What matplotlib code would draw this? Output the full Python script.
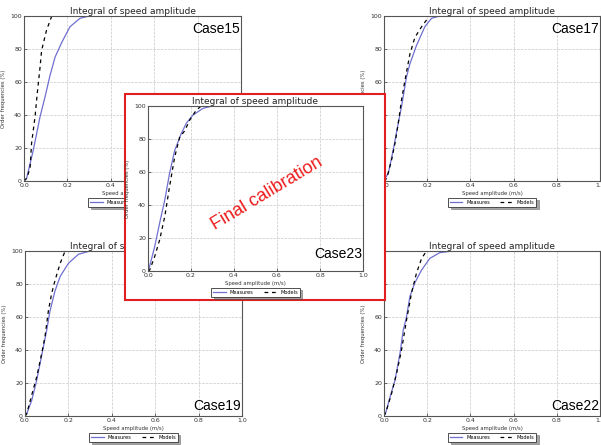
import matplotlib
matplotlib.use("Agg")
import matplotlib.pyplot as plt
from matplotlib.patches import Rectangle

W, H = 601, 445

# speed amplitude (m/s) / cumulative frequency (%)
c15_meas_x = [0.0, 0.012, 0.043, 0.074, 0.097, 0.12, 0.143, 0.174, 0.212, 0.258, 0.30, 1.0]
c15_meas_y = [0, 1.6, 18.8, 39, 51, 64, 75, 84, 93.5, 98.6, 100, 100]
c15_mod_x = [0.0, 0.012, 0.028, 0.035, 0.051, 0.061, 0.074, 0.081, 0.104, 0.127]
c15_mod_y = [0, 1.6, 7.7, 23, 39, 53, 69, 79, 91.5, 99.6]

c17_meas_x = [0.0, 0.02, 0.043, 0.066, 0.081, 0.104, 0.12, 0.15, 0.189, 0.22, 0.258, 0.30]
c17_meas_y = [0.6, 4.6, 19, 35, 45, 63, 71, 82, 93.5, 98.6, 100, 100]
c17_mod_x = [0.0, 0.012, 0.035, 0.051, 0.066, 0.081, 0.097, 0.12, 0.143, 0.174, 0.197, 0.21]
c17_mod_y = [0, 1.5, 12.7, 23, 35, 49, 61, 77, 87, 93.5, 97.6, 100]

c19_meas_x = [0.0, 0.008, 0.031, 0.054, 0.077, 0.10, 0.115, 0.138, 0.162, 0.20, 0.246, 0.30, 1.0]
c19_meas_y = [0, 1.4, 9.5, 21.7, 36.8, 52, 63.6, 75.7, 84.6, 92.5, 98, 100, 100]
c19_mod_x = [0.0, 0.008, 0.031, 0.054, 0.077, 0.092, 0.108, 0.123, 0.138, 0.162, 0.185]
c19_mod_y = [0, 1.4, 12.7, 23.7, 37.9, 48, 64, 74.3, 82, 92.5, 100]

c22_meas_x = [0.0, 0.009, 0.028, 0.051, 0.074, 0.089, 0.104, 0.12, 0.143, 0.174, 0.212, 0.258, 0.32, 1.0]
c22_meas_y = [0, 2.4, 11.5, 21.7, 37.9, 52, 60, 72.5, 80.8, 88.5, 95.5, 99, 100, 100]
c22_mod_x = [0.0, 0.009, 0.035, 0.058, 0.081, 0.104, 0.127, 0.15, 0.174, 0.197]
c22_mod_y = [0, 2.4, 13.6, 25.7, 39.9, 58, 74.3, 86.4, 95.5, 100]

c23_meas_x = [0.0, 0.005, 0.031, 0.054, 0.078, 0.10, 0.124, 0.155, 0.178, 0.209, 0.256, 0.30, 1.0]
c23_meas_y = [0, 1.6, 14.7, 29, 43, 59, 73, 83.4, 89.5, 94.5, 98.6, 100, 100]
c23_mod_x = [0.0, 0.008, 0.031, 0.054, 0.078, 0.10, 0.124, 0.147, 0.171, 0.194, 0.225, 0.248]
c23_mod_y = [0, 0.6, 8.7, 18.8, 33, 51, 69, 81, 85, 91.5, 97.6, 100]

x_ticks = [0.0, 0.2, 0.4, 0.6, 0.8, 1.0]
y_ticks = [0, 20, 40, 60, 80, 100]
title = "Integral of speed amplitude"
x_label = "Speed amplitude (m/s)"
y_label = "Order frequencies (%)"
legend_labels = ["Measures", "Models"]

BLUE = "#6f6fd0"


def px_axes(fig, x0, y0, x1, y1, z=0):
    return fig.add_axes([x0 / W, 1 - y1 / H, (x1 - x0) / W, (y1 - y0) / H], zorder=z)


def draw_case(ax, name, mx, my, dx, dy, case_pos):
    ax.plot(mx, my, color=BLUE, lw=0.9, label=legend_labels[0])
    ax.plot(dx, dy, color="black", lw=0.9, ls=(0, (3, 3)), label=legend_labels[1])
    ax.set_xlim(0, 1)
    ax.set_ylim(0, 100)
    ax.set_xticks(x_ticks)
    ax.set_yticks(y_ticks)
    ax.set_xticklabels([f"{t:.1f}" for t in x_ticks])
    ax.tick_params(direction="in", labelsize=4.5, length=2, width=0.5, pad=1.5, colors="#333333")
    ax.grid(True, color="#c8c8c8", ls="--", lw=0.5)
    for s in ax.spines.values():
        s.set_color("#555555")
        s.set_linewidth(0.8)
    ax.set_title(title, fontsize=6.5, pad=1.5, color="#222222")
    ax.set_xlabel(x_label, fontsize=3.8, labelpad=2, color="#333333")
    ax.set_ylabel(y_label, fontsize=3.8, labelpad=3, color="#333333")
    ax.text(case_pos[0], case_pos[1], name, transform=ax.transAxes, fontsize=10,
            family="Liberation Sans", ha="right", va="center")
    leg = ax.legend(loc="upper center", bbox_to_anchor=(0.5, -0.085), ncol=2, fontsize=3.6,
                    frameon=True, fancybox=False, shadow=True, handlelength=2.5,
                    columnspacing=2.0, borderpad=0.4)
    leg.get_frame().set_edgecolor("#333333")
    leg.get_frame().set_linewidth(0.6)


fig = plt.figure(figsize=(W / 100, H / 100), dpi=100)
fig.patch.set_facecolor("white")

ax15 = px_axes(fig, 24, 16, 241, 181)
draw_case(ax15, "Case15", c15_meas_x, c15_meas_y, c15_mod_x, c15_mod_y, (0.995, 0.92))
ax17 = px_axes(fig, 384, 16, 600, 181)
draw_case(ax17, "Case17", c17_meas_x, c17_meas_y, c17_mod_x, c17_mod_y, (0.995, 0.92))
ax19 = px_axes(fig, 25, 251, 242, 416)
draw_case(ax19, "Case19", c19_meas_x, c19_meas_y, c19_mod_x, c19_mod_y, (0.995, 0.06))
ax22 = px_axes(fig, 384, 251, 600, 416)
draw_case(ax22, "Case22", c22_meas_x, c22_meas_y, c22_mod_x, c22_mod_y, (0.995, 0.06))

# overlay panel with the final calibration
box = Rectangle((125 / W, 1 - 300 / H), 260 / W, 206 / H, transform=fig.transFigure,
                facecolor="white", edgecolor="#e02020", lw=1.5, zorder=5)
fig.add_artist(box)
ax23 = px_axes(fig, 148, 106, 363, 271, z=6)
draw_case(ax23, "Case23", c23_meas_x, c23_meas_y, c23_mod_x, c23_mod_y, (0.995, 0.1))
ax23.text(0.553, 0.467, "Final calibration", transform=ax23.transAxes, color="#ee1c1c",
          fontsize=13, family="Liberation Sans", rotation=31, ha="center", va="center")

fig.savefig("out.png", dpi=100)
